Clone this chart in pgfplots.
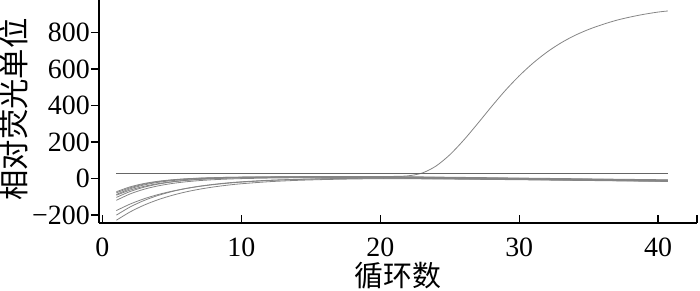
\documentclass[border=0pt]{standalone}
\usepackage{fontspec}
\setmainfont{Liberation Serif}
\newfontfamily\cjk{Noto Sans CJK SC}
\usepackage{pgfplots}
\usepackage{pgfplotstable}
\pgfplotsset{compat=1.18}

\pgfplotstableread{
x     c1     c2     c3     c4     c5     c6     c7     c8
1    -72    -87   -103   -119    -91   -175   -228   -200
2    -45  -55.7  -70.4  -83.6  -62.7 -139.1   -182 -154.9
3  -26.8  -34.7    -47  -58.2  -42.3 -110.4 -145.1 -119.7
4  -14.7  -20.6  -30.3    -40  -27.8  -87.4 -115.6  -92.4
5   -6.6  -11.2  -18.3    -27  -17.4    -69    -92    -71
6   -1.1   -4.9   -9.7  -17.6   -9.9  -54.3    -73  -54.4
7    2.6   -0.6   -3.6  -10.9   -4.5  -42.4  -57.9  -41.5
8      5    2.2    0.8   -6.1   -0.7    -33  -45.8  -31.5
9    6.7    4.1      4   -2.7      2  -25.4    -36  -23.6
10   7.8    5.4    6.3   -0.2      4  -19.4  -28.3  -17.5
12     9    6.8    9.1    2.8    6.4  -10.6    -17     -9
14   9.5    7.5   10.5    4.4    7.7     -5   -9.8   -3.9
16   9.8    7.8   11.2    5.2    8.3   -1.4   -5.2   -0.8
18   9.9    7.9   11.6    5.6    8.7    0.9   -2.3    1.1
20    10      8   11.8    5.8    8.8    2.4   -0.4    2.2
22   8.2    6.2   10.2    4.2    7.2    1.5     -1    1.1
25   5.5    3.5    7.5    1.5    4.5   -0.4   -2.6     -1
28   2.8    0.8    4.8   -1.2    1.8   -2.7   -4.8   -3.4
31   0.1   -1.9    2.1   -3.9   -0.9   -5.1   -7.2   -5.9
34  -2.6   -4.6   -0.6   -6.6   -3.6   -7.7   -9.8   -8.6
37  -5.3   -7.3   -3.3   -9.3   -6.3  -10.4  -12.4  -11.3
40.7 -8.6 -10.6   -6.6  -12.6   -9.6  -13.6  -15.6  -14.6
}\baseline

\pgfplotstableread{
x    y
1    -78
2    -50
3    -30
4    -17
5    -8
6    -2
7    2
8    5
9    7
10   8
12   9
14   10
16   10
18   10
20   11
21   12
22   15
23   30
24   68
25   130
26   210
27   300
28   393
29   482
30   562
31   632
32   692
33   742
34   783
35   816
36   843
37   866
38   884
39   899
40   911
40.7 917
}\amp

\pgfplotstableread{
x    y
1    27
40.7 27
}\thr

\begin{document}
\begin{tikzpicture}
\begin{axis}[
  name=ax,
  at={(0,0)}, anchor=south west,
  scale only axis,
  width=598bp, height=223bp,
  xmin=-0.25, xmax=42.8,
  ymin=-243, ymax=977,
  axis lines*=left,
  axis line style={line width=1.6bp, black},
  xtick={0,10,20,30,40,42.8},
  xticklabels={0,10,20,30,40,{}},
  ytick={-200,0,200,400,600,800},
  yticklabels={−200,0,200,400,600,800},
  xtick align=inside,
  ytick align=outside,
  major tick length=8bp,
  tick style={line width=1.4bp, black},
  /pgf/number format/assume math mode=true,
  tick label style={font=\fontsize{28}{30}\selectfont},
  xticklabel style={anchor=north, inner sep=0pt, yshift=-15bp},
  yticklabel style={anchor=east, inner sep=0pt, xshift=-1bp},
  xlabel={\cjk 循环数},
  ylabel={\cjk 相对荧光单位},
  label style={font=\fontsize{29}{30}\selectfont},
  xlabel style={at={(axis description cs:0.5,0)}, anchor=center, inner sep=0pt, yshift=-53bp},
  ylabel style={at={(axis description cs:0,0.5)}, anchor=center, inner sep=0pt, yshift=85bp, xshift=2bp, font=\fontsize{30.5}{31}\selectfont},
  curve/.style={smooth, tension=0.5, no markers, line width=0.8bp, black!48},
]
\addplot[curve] table[x=x, y=c1] {\baseline};
\addplot[curve] table[x=x, y=c2] {\baseline};
\addplot[curve] table[x=x, y=c3] {\baseline};
\addplot[curve] table[x=x, y=c4] {\baseline};
\addplot[curve] table[x=x, y=c5] {\baseline};
\addplot[curve] table[x=x, y=c6] {\baseline};
\addplot[curve] table[x=x, y=c7] {\baseline};
\addplot[curve] table[x=x, y=c8] {\baseline};
\addplot[curve] table[x=x, y=y] {\amp};
\addplot[sharp plot, no markers, line width=1.3bp, black!60] table[x=x, y=y] {\thr};
\end{axis}
\pgfresetboundingbox
\useasboundingbox (-99bp,-68bp) rectangle (601bp,223bp);
\end{tikzpicture}
\end{document}
